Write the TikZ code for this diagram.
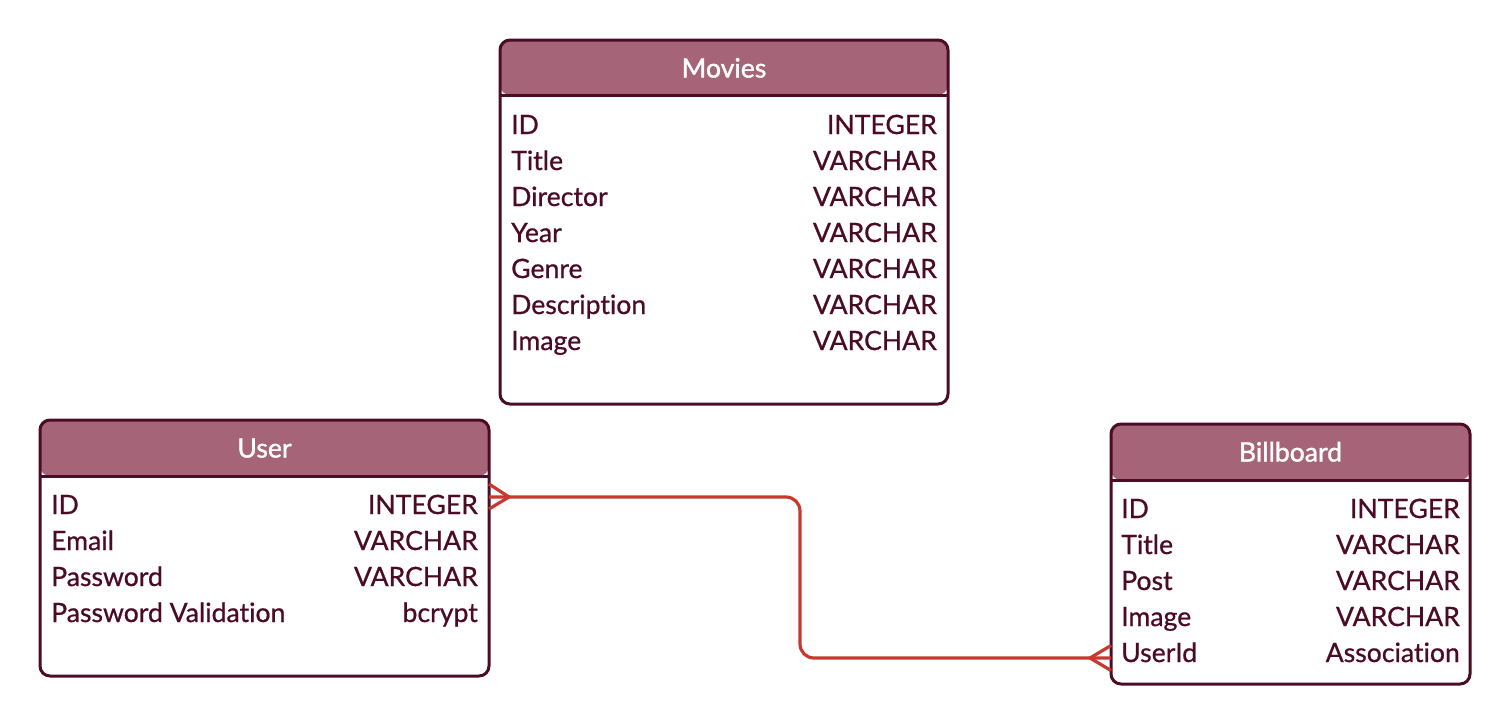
\documentclass[tikz,border=0pt]{standalone}
\usepackage{fontspec}
\setmainfont{Lato}[Ligatures=NoCommon, FakeBold=0.7]
\newfontfamily\headfont{Lato}[Ligatures=NoCommon, FakeBold=1.4]
\definecolor{headfill}{HTML}{A56478}
\definecolor{border}{HTML}{4B0C26}
\definecolor{txt}{HTML}{4B0A26}
\definecolor{rel}{HTML}{C9382E}
\tikzset{
  tablebox/.style={draw=border, line width=3pt, rounded corners=10pt, inner sep=0pt, outer sep=0pt, fill=white,
    path picture={\fill[headfill] (path picture bounding box.north west) rectangle ([yshift=-#1]path picture bounding box.north east);
      \draw[border, line width=3pt] ([yshift=-#1]path picture bounding box.north west) -- ([yshift=-#1]path picture bounding box.north east);}},
  headtxt/.style={text=white, font=\headfont\fontsize{26.6}{30}\selectfont, inner sep=0pt, text height=19pt, text depth=0pt},
  lefttxt/.style={text=txt, font=\fontsize{26.6}{30}\selectfont, inner sep=0pt, anchor=west, text height=19pt, text depth=0pt},
  righttxt/.style={text=txt, font=\fontsize{26.6}{30}\selectfont, inner sep=0pt, anchor=east, text height=19pt, text depth=0pt},
  relline/.style={draw=rel, line width=3.2pt},
}
\begin{document}
\begin{tikzpicture}[x=1pt,y=-1pt]
\useasboundingbox (0,0) rectangle (1511,724);
% Movies
\node[tablebox=55pt, minimum width=448pt, minimum height=364pt] (movies) at (724,222) {};
\node[headtxt] (mh) at (724,68) {Movies};
\foreach \n/\l/\r [count=\i from 0] in {m1/ID/INTEGER, m2/Title/VARCHAR, m3/Director/VARCHAR, m4/Year/VARCHAR, m5/Genre/VARCHAR, m6/Description/VARCHAR, m7/Image/VARCHAR}{
  \node[lefttxt] (\n l) at (511,124.5+36*\i) {\l};
  \node[righttxt] (\n r) at (937,124.5+36*\i) {\r};
}
% User
\node[tablebox=56pt, minimum width=449pt, minimum height=256pt] (user) at (264.5,548) {};
\node[headtxt] (uh) at (264.5,448) {User};
\foreach \n/\l/\r [count=\i from 0] in {u1/ID/INTEGER, u2/Email/VARCHAR, u3/Password/VARCHAR, u4/Password Validation/bcrypt}{
  \node[lefttxt] (\n l) at (51,504.5+36*\i) {\l};
  \node[righttxt] (\n r) at (478,504.5+36*\i) {\r};
}
% Billboard
\node[tablebox=56pt, minimum width=359pt, minimum height=260pt] (billboard) at (1290.5,554) {};
\node[headtxt] (bh) at (1290.5,452) {Billboard};
\foreach \n/\l/\r [count=\i from 0] in {b1/ID/INTEGER, b2/Title/VARCHAR, b3/Post/VARCHAR, b4/Image/VARCHAR, b5/UserId/Association}{
  \node[lefttxt] (\n l) at (1121,508.5+36*\i) {\l};
  \node[righttxt] (\n r) at (1460,508.5+36*\i) {\r};
}
% relation
\coordinate (ua) at ([yshift=-77pt]user.north east);
\coordinate (ba) at ([yshift=-234pt]billboard.north west);
\draw[relline, rounded corners=14pt] (ua) -- (ua -| 800,0) -- (800,0 |- ba) -- (ba);
\draw[relline] ([yshift=13pt]ua) -- ++(20,13) -- ([yshift=-12pt]ua);
\draw[relline] ([yshift=12.5pt]ba) -- ++(-21,12.5) -- ([yshift=-12.5pt]ba);
\end{tikzpicture}
\end{document}
